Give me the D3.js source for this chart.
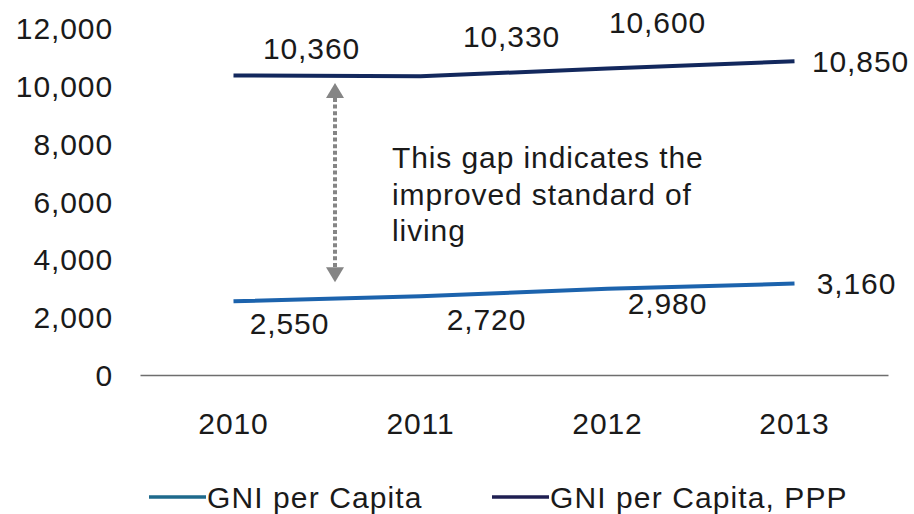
<!DOCTYPE html>
<html>
<head>
<meta charset="utf-8">
<script src="https://cdn.jsdelivr.net/npm/d3@7"></script>
<style>
  html, body { margin: 0; padding: 0; background: #ffffff; }
  svg text { font-family: "Liberation Sans", Arial, sans-serif; fill: #1a1a1a; letter-spacing: 0.9px; }
</style>
</head>
<body>
<svg id="chart" width="914" height="514"></svg>
<script>
// GNI per capita vs GNI per capita (PPP), 2010-2013
const years = ["2010", "2011", "2012", "2013"];
const gniPerCapita = [2550, 2720, 2980, 3160];
const gniPerCapitaPPP = [10360, 10330, 10600, 10850];
const yTicks = [0, 2000, 4000, 6000, 8000, 10000, 12000];
const seriesNames = ["GNI per Capita", "GNI per Capita, PPP"];
const noteLines = ["This gap indicates the", "improved standard of", "living"];

// label placement relative to each point (layout only)
const pppLabelOffsets = [[78, -27], [91, -40], [50, -46], [66, 0]];
const gniLabelOffsets = [[56, 22], [66, 23], [60, 15], [62, 0]];

const fontSize = 30;
const svg = d3.select("#chart");

const x = d3.scaleBand().domain(years).range([140, 888]);
const y = d3.scaleLinear().domain([0, 12000]).range([375, 28]);
const cx = d => x(d) + x.bandwidth() / 2;
const fmt = d3.format(",");

// y axis labels (no axis line)
const yAxis = d3.axisLeft(y).tickValues(yTicks).tickFormat(fmt).tickSize(0).tickPadding(0);
const yg = svg.append("g").attr("transform", "translate(113,0)").call(yAxis);
yg.select(".domain").remove();
yg.selectAll("text")
  .attr("font-size", fontSize)
  .attr("fill", "#1a1a1a")
  .attr("font-family", "Liberation Sans, Arial, sans-serif")
  .attr("dy", "0.35em");

// x axis baseline and year labels
const xAxis = d3.axisBottom(x).tickSize(0).tickPadding(0);
const xg = svg.append("g").attr("transform", `translate(0,${y(0)})`).call(xAxis);
xg.select(".domain").attr("stroke", "#6e6e6e").attr("stroke-width", 1.5);
xg.selectAll("text")
  .attr("font-size", fontSize)
  .attr("fill", "#1a1a1a")
  .attr("font-family", "Liberation Sans, Arial, sans-serif")
  .attr("y", 48)
  .attr("dy", "0.35em");

const colors = { gni: "#1c63ad", ppp: "#13285d" };
const legendColors = { gni: "#1e6a8c", ppp: "#1f1f52" };

const line = d3.line().x((d, i) => cx(years[i])).y(d => y(d));

svg.append("path").datum(gniPerCapitaPPP)
  .attr("d", line).attr("fill", "none")
  .attr("stroke", colors.ppp).attr("stroke-width", 4);
svg.append("path").datum(gniPerCapita)
  .attr("d", line).attr("fill", "none")
  .attr("stroke", colors.gni).attr("stroke-width", 4);

// value labels
function labels(values, offsets) {
  svg.append("g").selectAll("text").data(values).join("text")
    .attr("x", (d, i) => cx(years[i]) + offsets[i][0])
    .attr("y", (d, i) => y(d) + offsets[i][1])
    .attr("dy", "0.35em")
    .attr("text-anchor", "middle")
    .attr("font-size", fontSize)
    .text(d => fmt(d));
}
labels(gniPerCapitaPPP, pppLabelOffsets);
labels(gniPerCapita, gniLabelOffsets);

// gap arrow between the two series
const arrowX = 335;
const arrowTop = y(10100), arrowBottom = y(3210);
const headH = 15, headW = 9;
svg.append("line")
  .attr("x1", arrowX).attr("x2", arrowX)
  .attr("y1", arrowTop + headH).attr("y2", arrowBottom - headH)
  .attr("stroke", "#858585").attr("stroke-width", 4)
  .attr("stroke-dasharray", "4,2.6");
svg.append("path")
  .attr("d", `M${arrowX},${arrowTop} L${arrowX - headW},${arrowTop + headH} L${arrowX + headW},${arrowTop + headH}Z`)
  .attr("fill", "#858585");
svg.append("path")
  .attr("d", `M${arrowX},${arrowBottom} L${arrowX - headW},${arrowBottom - headH} L${arrowX + headW},${arrowBottom - headH}Z`)
  .attr("fill", "#858585");

// note text
svg.append("g").selectAll("text").data(noteLines).join("text")
  .attr("x", 392)
  .attr("y", (d, i) => 168 + i * 36.5)
  .attr("font-size", fontSize)
  .text(d => d);

// legend
const legend = [
  { name: seriesNames[0], color: legendColors.gni, x0: 149 },
  { name: seriesNames[1], color: legendColors.ppp, x0: 492 }
];
const lg = svg.append("g").selectAll("g").data(legend).join("g");
lg.append("line")
  .attr("x1", d => d.x0).attr("x2", d => d.x0 + 57)
  .attr("y1", 497).attr("y2", 497)
  .attr("stroke", d => d.color).attr("stroke-width", 3.5);
lg.append("text")
  .attr("x", d => d.x0 + 58)
  .attr("y", 497)
  .attr("dy", "0.35em")
  .attr("font-size", fontSize)
  .style("letter-spacing", "1.1px")
  .text(d => d.name);
</script>
</body>
</html>
